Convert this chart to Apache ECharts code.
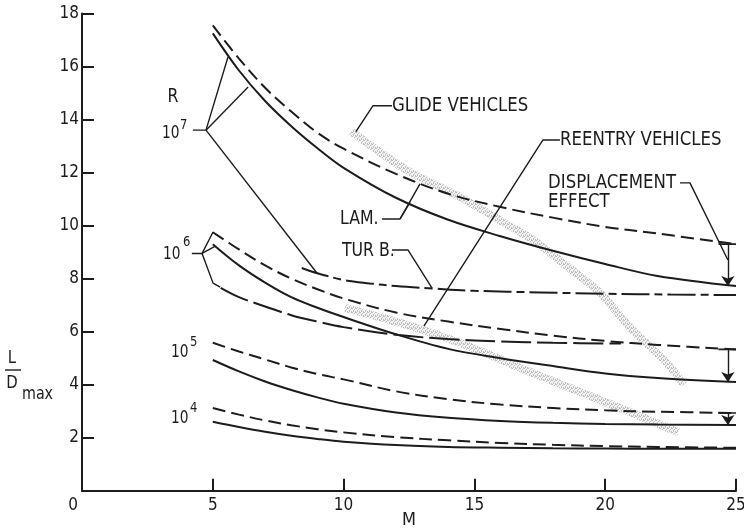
<!DOCTYPE html>
<html>
<head>
<meta charset="utf-8">
<script src="https://cdn.jsdelivr.net/npm/echarts@6/dist/echarts.min.js"></script>
<style>
  html, body { margin: 0; padding: 0; background: #fff; }
  #chart { width: 744px; height: 530px; }
</style>
</head>
<body>
<div id="chart"></div>
<script>
// Maximum lift-to-drag ratio versus Mach number for several Reynolds numbers.
const FONT = '"DejaVu Sans Condensed", "DejaVu Sans", sans-serif';
const INK = '#1c1c1c';

// Axis ticks
const machTicks = [0, 5, 10, 15, 20, 25];
const ldTicks = [2, 4, 6, 8, 10, 12, 14, 16, 18];

// Laminar curves share one set of Mach stations
const machLam = [5, 6, 7, 8, 9, 10, 12, 14, 16, 18, 20, 22, 25];
// dashed = without displacement effect, solid = with displacement effect
const lamR7Dashed = [17.55, 16.3, 15.2, 14.3, 13.5, 12.9, 11.95, 11.2, 10.7, 10.3, 9.95, 9.7, 9.3];
const lamR7Solid  = [17.25, 15.85, 14.7, 13.75, 12.92, 12.18, 11.05, 10.22, 9.6, 9.05, 8.55, 8.1, 7.72];
const lamR6Dashed = [9.75, 9.1, 8.5, 8.0, 7.6, 7.25, 6.72, 6.38, 6.1, 5.85, 5.65, 5.5, 5.33];
const lamR6Solid  = [9.3, 8.5, 7.85, 7.3, 6.9, 6.55, 5.9, 5.35, 5.0, 4.7, 4.42, 4.25, 4.1];
const lamR5Dashed = [5.58, 5.25, 4.95, 4.65, 4.4, 4.2, 3.75, 3.45, 3.25, 3.12, 3.03, 2.98, 2.93];
const lamR5Solid  = [4.93, 4.5, 4.12, 3.8, 3.52, 3.28, 2.95, 2.75, 2.63, 2.56, 2.52, 2.5, 2.48];
const lamR4Dashed = [3.12, 2.87, 2.65, 2.47, 2.32, 2.2, 2.02, 1.9, 1.8, 1.73, 1.68, 1.65, 1.62];
const lamR4Solid  = [2.6, 2.4, 2.22, 2.07, 1.95, 1.85, 1.72, 1.65, 1.62, 1.6, 1.59, 1.58, 1.58];

// Turbulent curves
const machTurbR7 = [8.4, 9, 10, 11, 12, 13.4, 15, 17.5, 20, 22.5, 25];
const turbR7     = [8.4, 8.2, 7.95, 7.82, 7.72, 7.63, 7.54, 7.48, 7.43, 7.4, 7.38];
const machTurbR6 = [5.3, 6, 7, 8, 9, 10, 12, 14, 16, 18, 20.6];
const turbR6     = [7.65, 7.3, 6.95, 6.62, 6.38, 6.17, 5.88, 5.72, 5.63, 5.58, 5.55];

// Vehicle bands
const machGlide = [10.3, 12.4, 14.5, 16.4, 17.3, 18.5, 19.8, 21.0, 22.3, 23.0];
const ldGlide   = [13.55, 12.1, 11.05, 9.95, 9.42, 8.5, 7.46, 6.1, 4.88, 4.0];
const machReentry = [10.05, 12.2, 14.5, 17.2, 20.5, 22.8];
const ldReentry   = [6.9, 6.32, 5.55, 4.45, 3.15, 2.2];

// Displacement-effect arrows: [from dashed value, to solid value]
const displacementPairs = [[9.3, 7.72], [5.33, 4.1], [2.93, 2.48]];

const zip = (xs, ys) => xs.map((x, i) => [x, ys[i]]);

// Annotation geometry (leader lines, in data units)
const ARROW_M = 24.69;
const BAR_FROM = 24.33, BAR_TO = 25;
const leaders = [
  // R = 10^7 bracket
  [[4.24, 13.6], [4.74, 13.6], [5.58, 16.36]],
  [[4.74, 13.6], [6.35, 15.23]],
  [[4.74, 13.6], [8.98, 8.21]],
  // R = 10^6 bracket
  [[4.2, 8.95], [4.59, 8.95], [5.01, 9.76]],
  [[4.59, 8.95], [5.08, 9.22]],
  [[4.59, 8.95], [5.01, 7.83], [5.28, 7.68]],
  // LAM.
  [[11.47, 10.25], [12.16, 10.25], [12.92, 11.57]],
  [[12.16, 10.25], [12.54, 10.88]],
  // TURB.
  [[11.85, 9.08], [12.46, 9.08], [13.38, 7.64]],
  // GLIDE VEHICLES
  [[11.85, 14.52], [11.12, 14.52], [10.47, 13.54]],
  // REENTRY VEHICLES
  [[18.27, 13.23], [17.62, 13.23], [13.07, 6.21]],
  // DISPLACEMENT EFFECT
  [[22.86, 11.61], [23.24, 11.61], [24.69, 8.7]]
];

// fine grey stipple used for the vehicle bands
function stipple() {
  const c = document.createElement('canvas');
  c.width = 4; c.height = 4;
  const g = c.getContext('2d');
  g.fillStyle = '#f3f3f3';
  g.fillRect(0, 0, 4, 4);
  g.fillStyle = '#bdbdbd';
  [[0, 0], [2, 1], [1, 2], [3, 3], [3, 0], [1, 3]].forEach(p => g.fillRect(p[0], p[1], 1, 1));
  return c;
}
const bandColor = { image: stipple(), repeat: 'repeat' };

function curve(xs, ys, type, z) {
  return {
    type: 'line', data: zip(xs, ys), smooth: 0.35, symbol: 'none', silent: true, z: z || 4,
    lineStyle: { color: INK, width: 2, type: type, cap: 'butt' }
  };
}

const DASH = [13, 6];
const TURB_DASH = [28, 5, 8, 5];
const TURB6_DASH = [30, 6];

const series = [
  { type: 'line', data: zip(machGlide, ldGlide), smooth: 0.3, symbol: 'none', silent: true, z: 2,
    lineStyle: { color: bandColor, width: 8, cap: 'butt' } },
  { type: 'line', data: zip(machReentry, ldReentry), smooth: 0.3, symbol: 'none', silent: true, z: 2,
    lineStyle: { color: bandColor, width: 8, cap: 'butt' } },
  curve(machLam, lamR7Dashed, DASH),
  curve(machLam, lamR7Solid, 'solid'),
  curve(machTurbR7, turbR7, TURB_DASH),
  curve(machLam, lamR6Dashed, DASH),
  curve(machLam, lamR6Solid, 'solid'),
  curve(machTurbR6, turbR6, TURB6_DASH),
  curve(machLam, lamR5Dashed, DASH),
  curve(machLam, lamR5Solid, 'solid'),
  curve(machLam, lamR4Dashed, DASH),
  curve(machLam, lamR4Solid, 'solid')
];

leaders.forEach(pts => series.push({
  type: 'line', data: pts, symbol: 'none', silent: true, z: 5,
  lineStyle: { color: INK, width: 1.4 }
}));

// bars at the top of each displacement arrow, plus the arrow shafts
displacementPairs.forEach((p, i) => series.push({
  type: 'line', data: [[BAR_FROM, p[0]], [BAR_TO, p[0]]], symbol: 'none', silent: true, z: 5,
  lineStyle: { color: INK, width: 1.6 },
  markLine: i === 0 ? {
    silent: true, symbol: ['none', 'arrow'], symbolSize: 10, label: { show: false },
    lineStyle: { color: INK, width: 1.4, type: 'solid' },
    data: displacementPairs.map(q => [{ coord: [ARROW_M, q[0]] }, { coord: [ARROW_M, q[1]] }])
  } : undefined
}));

// narrow lettering: condensed face squeezed a little further
const txt = (text, x, y, size, align, squeeze) => ({
  type: 'text', x: x, y: y, silent: true, z: 10, scaleX: squeeze || 0.92,
  style: { text: text, font: (size || 20) + 'px ' + FONT, fill: INK,
           textAlign: align || 'left', textVerticalAlign: 'middle' }
});

const graphic = [
  txt('R', 173, 97, 19, 'center'),
  txt('10', 162, 133, 18, 'left', 0.85), txt('7', 180, 125, 14),
  txt('10', 163, 254, 18, 'left', 0.85), txt('6', 183, 242, 14),
  txt('10', 171, 352, 18, 'left', 0.85), txt('5', 190, 342, 14),
  txt('10', 171, 418, 18, 'left', 0.85), txt('4', 190, 408, 14),
  txt('LAM.', 340, 219, 19),
  txt('TUR B.', 342, 251, 19),
  txt('GLIDE VEHICLES', 392, 106, 20),
  txt('REENTRY VEHICLES', 560, 140, 20),
  txt('DISPLACEMENT', 548, 183, 20),
  txt('EFFECT', 548, 202, 20),
  // axis title L/D max
  txt('L', 12, 358, 18, 'center'),
  { type: 'line', silent: true, shape: { x1: 5, y1: 370, x2: 21, y2: 370 },
    style: { stroke: INK, lineWidth: 1.4 } },
  txt('D', 12, 383, 18, 'center'),
  txt('max', 22, 394, 18, 'left', 0.88)
];

const axisCommon = {
  type: 'value',
  axisLine: { show: true, onZero: false, lineStyle: { color: INK, width: 2 } },
  axisTick: { show: true, inside: true, length: 12, lineStyle: { color: INK, width: 2 } },
  splitLine: { show: false }
};

const chart = echarts.init(document.getElementById('chart'), null, { renderer: 'canvas' });
chart.setOption({
  animation: false,
  backgroundColor: '#fff',
  grid: { left: 82, right: 8, top: 13.5, bottom: 39.3, containLabel: false, outerBoundsMode: 'none' },
  xAxis: Object.assign({}, axisCommon, {
    min: machTicks[0], max: machTicks[machTicks.length - 1], interval: 5,
    name: 'M', nameLocation: 'middle', nameGap: 21, nameMoveOverlap: false,
    nameTextStyle: { fontFamily: FONT, fontSize: 18, color: INK },
    axisLabel: {
      margin: 6, fontFamily: FONT, fontSize: 17, color: INK,
      formatter: v => machTicks.includes(v) ? (v === 0 ? '{z|0}' : String(v)) : '',
      rich: { z: { fontFamily: FONT, fontSize: 17, color: INK, padding: [0, 18, 0, 0] } }
    }
  }),
  yAxis: Object.assign({}, axisCommon, {
    min: 0, max: ldTicks[ldTicks.length - 1], interval: 2,
    axisLabel: {
      margin: 3, fontFamily: FONT, fontSize: 17, color: INK,
      formatter: v => ldTicks.includes(v) ? String(v) : ''
    }
  }),
  graphic: graphic,
  series: series
});
</script>
</body>
</html>
